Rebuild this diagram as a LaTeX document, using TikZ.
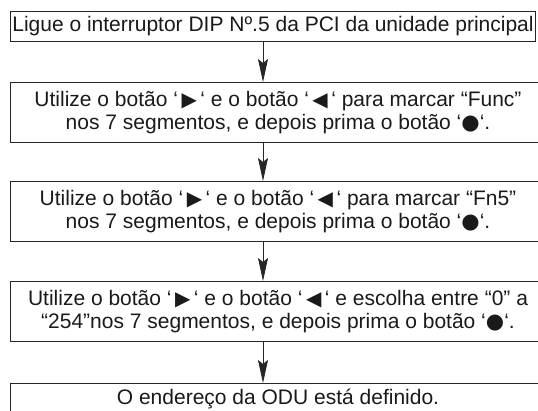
\documentclass[tikz,border=0pt]{standalone}
\usepackage{fontspec}
\setmainfont{Liberation Sans}
\newfontfamily\symfont{DejaVu Sans}
\usetikzlibrary{positioning, calc, arrows.meta}

\newcommand{\btn}[1]{\,\scalebox{0.95}{\symfont #1}\,}
\newcommand{\dotbtn}{\scalebox{1.0}{\symfont ●}}

\begin{document}
\begin{tikzpicture}[
  x=1pt, y=-1pt,
  font=\fontsize{21}{23}\selectfont,
  >={Stealth[length=23pt,width=10pt,inset=4pt]},
]
\definecolor{cLine}{HTML}{262626}   % box outline / arrows
\definecolor{cText}{HTML}{1A1A1A}   % step text
\tikzset{
  stepbox/.style={draw=cLine, text=cText, line width=1pt, anchor=north west,
    align=center, inner sep=0pt, minimum width=535pt, minimum height=60pt},
}

% page frame (boxes 2--5 run past the right and bottom edges)
\useasboundingbox (0,0) rectangle (538,410);

% =====================================================================
% Steps, top to bottom
% =====================================================================
\node[stepbox, minimum width=525pt, minimum height=30pt] (s1) at (10,11)
  {Ligue o interruptor DIP Nº.5 da PCI da unidade principal};
\node[stepbox] (s2) at (10,82)
  {Utilize o botão ‘\btn{▶}‘ e o botão ‘\btn{◀}‘ para marcar “Func”\\
   nos 7 segmentos, e depois prima o botão ‘\dotbtn‘.};
\node[stepbox] (s3) at (10,181)
  {Utilize o botão ‘\btn{▶}‘ e o botão ‘\btn{◀}‘ para marcar “Fn5”\\
   nos 7 segmentos, e depois prima o botão ‘\dotbtn‘.};
\node[stepbox] (s4) at (10,281)
  {Utilize o botão ‘\btn{▶}‘ e o botão ‘\btn{◀}‘ e escolha entre “0” a\\
   “254”nos 7 segmentos, e depois prima o botão ‘\dotbtn‘.};
\node[stepbox, minimum height=30pt] (s5) at (10,383)
  {O endereço da ODU está definido.};

% =====================================================================
% Arrows between the steps
% =====================================================================
\coordinate (ax) at (263,0);
\foreach \a/\b in {s1/s2, s2/s3, s3/s4, s4/s5}{
  \draw[->, cLine, line width=0.8pt] (\a.south -| ax) -- (\b.north -| ax);
}

\end{tikzpicture}
\end{document}
